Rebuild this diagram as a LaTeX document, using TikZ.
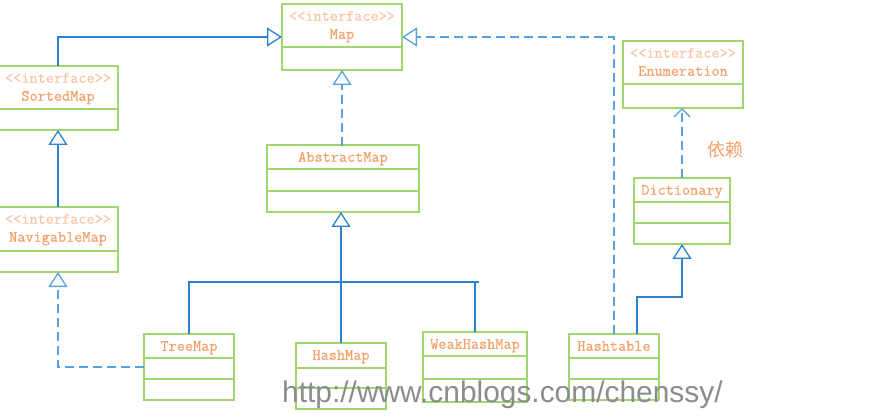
\documentclass[tikz,border=0pt]{standalone}
\usepackage{fontspec}
\newfontfamily\cjk{Noto Sans CJK SC}
\newfontfamily\markfont{Liberation Sans}
\newfontfamily\clsfont[FakeBold=0.5]{Latin Modern Mono}
\usepackage{tikz}
\usetikzlibrary{arrows.meta}
\definecolor{boxgreen}{RGB}{160,214,110}
\definecolor{linkblue}{RGB}{45,130,205}
\definecolor{dashblue}{RGB}{90,162,222}
\definecolor{nameorange}{RGB}{244,160,105}
\definecolor{stereoorange}{RGB}{249,196,165}
\definecolor{markgray}{RGB}{140,140,140}

\begin{document}
\begin{tikzpicture}[x=1pt,y=-1pt]
\tikzset{cls/.style={draw=boxgreen, line width=1.4pt, inner sep=0pt, outer sep=0pt, anchor=north west}}
\tikzset{clsline/.style={draw=boxgreen, line width=1.4pt}}
\tikzset{clsname/.style={text=nameorange, font=\clsfont\fontsize{15.8}{16}\selectfont, inner sep=0pt, text height=9.5pt, text depth=0pt}}
\tikzset{stereo/.style={clsname, text=stereoorange}}
\tikzset{link/.style={draw=linkblue, line width=1.3pt}}
\tikzset{inherit/.style={link, -{Triangle[open, length=15pt, width=19pt]}}}
\tikzset{realize/.style={inherit, draw=dashblue, dash pattern=on 9pt off 5pt}}
\tikzset{depend/.style={draw=dashblue, line width=1.3pt, dash pattern=on 9pt off 5pt, -{Straight Barb[length=8pt, width=16pt]}}}

   \useasboundingbox (0,0) rectangle (874,419);

   % classes: name / left / top / width / height / text offset
   \foreach \n/\x/\y/\w/\h/\o in {%
     Map/282/4/120/66/30,%
     SortedMap/-2/66/120/64/30,%
     NavigableMap/-2/207/120/65/30,%
     Enumeration/623/41/120/67/30,%
     AbstractMap/267/145/152/67/12,%
     TreeMap/144/334/90/66/12,%
     HashMap/296/343/90/66/12,%
     WeakHashMap/423/332/104/70/12,%
     Hashtable/569/334/90/66/12,%
     Dictionary/634/178/96/66/12}
   {
     \node [cls, minimum width=\w pt, minimum height=\h pt] (\n) at (\x,\y) {};
     \node [clsname] (\n-t) at ([yshift=-\o pt]\n.north) {\n};
   }

   \foreach \n in {Map,SortedMap,NavigableMap,Enumeration}
     \node [stereo] (\n-s) at ([yshift=-12pt]\n.north) {<<interface>>};

   \foreach \n/\d in {Map/43,SortedMap/43,NavigableMap/44,Enumeration/43,%
     AbstractMap/24,AbstractMap/46,TreeMap/24,TreeMap/45,HashMap/25,HashMap/45,%
     WeakHashMap/24,WeakHashMap/47,Hashtable/24,Hashtable/45,Dictionary/24,Dictionary/45}
     \draw [clsline] ([yshift=-\d pt]\n.north west) -- ([yshift=-\d pt]\n.north east);

   % relations
   \draw [inherit] (SortedMap.north) |- (Map.west);
   \draw [inherit] (NavigableMap.north) -- (SortedMap.south);
   \draw [realize] (AbstractMap.north) -- (AbstractMap.north -| Map.south) -- (Map.south);
   \draw [realize] (TreeMap.west) -| (NavigableMap.south);
   \draw [realize] (Hashtable.north) |- (Map.east);

   \coordinate (barL) at (188,282);
   \coordinate (barR) at (479,282);
   \draw [link] (barL) -- (barR);
   \draw [link] (TreeMap.north) -- (TreeMap.north |- barL);
   \draw [link] (WeakHashMap.north) -- (WeakHashMap.north |- barL);
   \draw [inherit] (HashMap.north) -- (HashMap.north |- AbstractMap.south);

   \coordinate (bend) at (637,297);
   \draw [inherit] (Hashtable.north -| bend) -- (bend) -| (Dictionary.south);
   \draw [depend] (Dictionary.north) -- (Dictionary.north |- Enumeration.south);
   \node [text=nameorange, font=\cjk\fontsize{18}{20}\selectfont] (dep) at (725,150) {依赖};

   % watermark
   \node [anchor=base west, inner sep=0pt, text=markgray, font=\markfont\fontsize{29.9}{30}\selectfont] (mark) at (282,402) {http://www.cnblogs.com/chenssy/};
\end{tikzpicture}
\end{document}
